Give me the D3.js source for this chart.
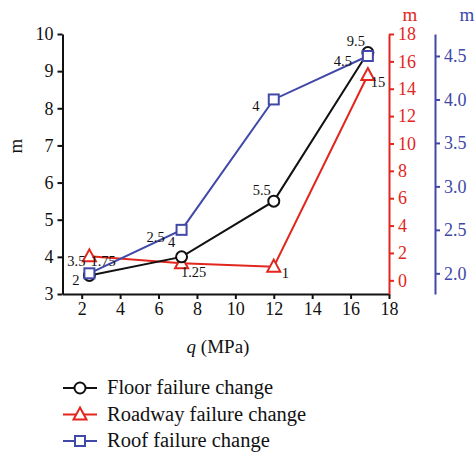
<!DOCTYPE html>
<html><head><meta charset="utf-8">
<script src="https://cdn.jsdelivr.net/npm/d3@7"></script>
<style>body{margin:0;background:#fff}svg{display:block}</style>
</head><body><svg id="c" width="476" height="453"></svg>
<script>
const qValues = [2.4, 7.2, 12, 16.9];
const floorValues = [3.5, 4, 5.5, 9.5];
const roadwayValues = [1.75, 1.25, 1, 15];
const roofValues = [2, 2.5, 4, 4.5];
const xTicks = [2,4,6,8,10,12,14,16,18];
const leftTicks = [3,4,5,6,7,8,9,10];
const redTicks = [0,2,4,6,8,10,12,14,16,18];
const blueTicks = [2.0,2.5,3.0,3.5,4.0,4.5];
const seriesNames = ["Floor failure change","Roadway failure change","Roof failure change"];

const FONT = "'Liberation Serif', 'DejaVu Serif', serif";
const RED = "#e2261d", BLUE = "#4048a8", BLACK = "#111";
const svg = d3.select("#c").attr("font-family", FONT);
const x = d3.scaleLinear().domain([1,18]).range([62.5,389]);
const yL = d3.scaleLinear().domain([3,10]).range([294,34]);
const yR = d3.scaleLinear().domain([-1,18]).range([294,34]);
const yB = d3.scaleLinear().domain([1.762,4.753]).range([294,34]);

function styleAxis(g, color, fs){
  g.attr("font-family", FONT).attr("font-size", fs);
  g.selectAll("path").attr("stroke",color).attr("stroke-width",2);
  g.selectAll("line").attr("stroke",color).attr("stroke-width",2);
  g.selectAll("text").attr("fill",color).attr("font-size",fs).attr("font-family",FONT);
}
const gx = svg.append("g").attr("transform","translate(0,294)")
  .call(d3.axisBottom(x).tickValues(xTicks).tickFormat(d3.format("d")).tickSize(5).tickSizeOuter(0).tickPadding(3));
styleAxis(gx, BLACK, 18);
const gl = svg.append("g").attr("transform","translate(62.5,0)")
  .call(d3.axisLeft(yL).tickValues(leftTicks).tickFormat(d3.format("d")).tickSize(5).tickSizeOuter(0).tickPadding(4));
styleAxis(gl, BLACK, 18);
const gr = svg.append("g").attr("transform","translate(389,0)")
  .call(d3.axisRight(yR).tickValues(redTicks).tickFormat(d3.format("d")).tickSize(5).tickSizeOuter(0).tickPadding(4));
styleAxis(gr, RED, 18);
const gb = svg.append("g").attr("transform","translate(435,0)")
  .call(d3.axisRight(yB).tickValues(blueTicks).tickFormat(d3.format(".1f")).tickSize(5).tickSizeOuter(0).tickPadding(4));
styleAxis(gb, BLUE, 18);

svg.append("text").attr("transform","translate(22,146) rotate(-90)").attr("text-anchor","middle").attr("font-size",19).attr("fill",BLACK).text("m");
svg.append("text").attr("x",410).attr("y",21).attr("text-anchor","middle").attr("font-size",19).attr("fill",RED).text("m");
svg.append("text").attr("x",467).attr("y",21).attr("text-anchor","middle").attr("font-size",19).attr("fill",BLUE).text("m");
const xl = svg.append("text").attr("x",218).attr("y",353).attr("text-anchor","middle").attr("font-size",19).attr("fill",BLACK);
xl.append("tspan").attr("font-style","italic").text("q");
xl.append("tspan").text(" (MPa)");

const series = [
  {vals: floorValues, y: yL, color: BLACK, shape: "circle"},
  {vals: roadwayValues, y: yR, color: RED, shape: "triangle"},
  {vals: roofValues, y: yB, color: BLUE, shape: "square"}
];
function marker(g, shape, color, cx, cy){
  if(shape==="circle") g.append("circle").attr("cx",cx).attr("cy",cy).attr("r",5.5).attr("fill","#fff").attr("stroke",color).attr("stroke-width",2);
  else if(shape==="square") g.append("rect").attr("x",cx-5).attr("y",cy-5).attr("width",10).attr("height",10).attr("fill","#fff").attr("stroke",color).attr("stroke-width",2);
  else g.append("path").attr("d",`M${cx},${cy-7}L${cx+6.5},${cy+5}L${cx-6.5},${cy+5}Z`).attr("fill","#fff").attr("stroke",color).attr("stroke-width",2);
}
[series[1], series[0], series[2]].forEach(s=>{
  const g = svg.append("g");
  g.append("path").datum(s.vals).attr("fill","none").attr("stroke",s.color).attr("stroke-width",2)
    .attr("d", d3.line().x((d,i)=>x(qValues[i])).y(d=>s.y(d)));
  s.vals.forEach((v,i)=>marker(g, s.shape, s.color, x(qValues[i]), s.y(v)));
});

const lab = svg.append("g").attr("font-size",14.5).attr("fill",BLACK);
function L(txt, px, py, dx, dy, anchor){
  lab.append("text").attr("x",px+dx).attr("y",py+dy).attr("text-anchor",anchor||"middle").text(txt);
}
L(floorValues[0], x(qValues[0]), yL(floorValues[0]), -4, -9, "end");
L(floorValues[1], x(qValues[1]), yL(floorValues[1]), -10, -10, "middle");
L(floorValues[2], x(qValues[2]), yL(floorValues[2]), -12, -6, "middle");
L(floorValues[3], x(qValues[3]), yL(floorValues[3]), -12, -7, "middle");
L(roadwayValues[0], x(qValues[0]), yR(roadwayValues[0]), 1, 10, "start");
L(roadwayValues[1], x(qValues[1]), yR(roadwayValues[1]), 12, 14, "middle");
L(roadwayValues[2], x(qValues[2]), yR(roadwayValues[2]), 8, 11, "start");
L(roadwayValues[3], x(qValues[3]), yR(roadwayValues[3]), 3, 12, "start");
L(roofValues[0], x(qValues[0]), yB(roofValues[0]), -10, 12, "end");
L(roofValues[1], x(qValues[1]), yB(roofValues[1]), -26, 12, "middle");
L(roofValues[2], x(qValues[2]), yB(roofValues[2]), -18, 12, "middle");
L(roofValues[3], x(qValues[3]), yB(roofValues[3]), -25, 10, "middle");

const leg = svg.append("g");
series.forEach((s,i)=>{
  const yy = 388 + i*26.5;
  leg.append("line").attr("x1",63).attr("x2",97).attr("y1",yy).attr("y2",yy).attr("stroke",s.color).attr("stroke-width",2);
  marker(leg, s.shape, s.color, 80, yy);
  leg.append("text").attr("x",107).attr("y",yy+6).attr("font-size",20.5).attr("fill",BLACK).text(seriesNames[i]);
});
</script></body></html>
